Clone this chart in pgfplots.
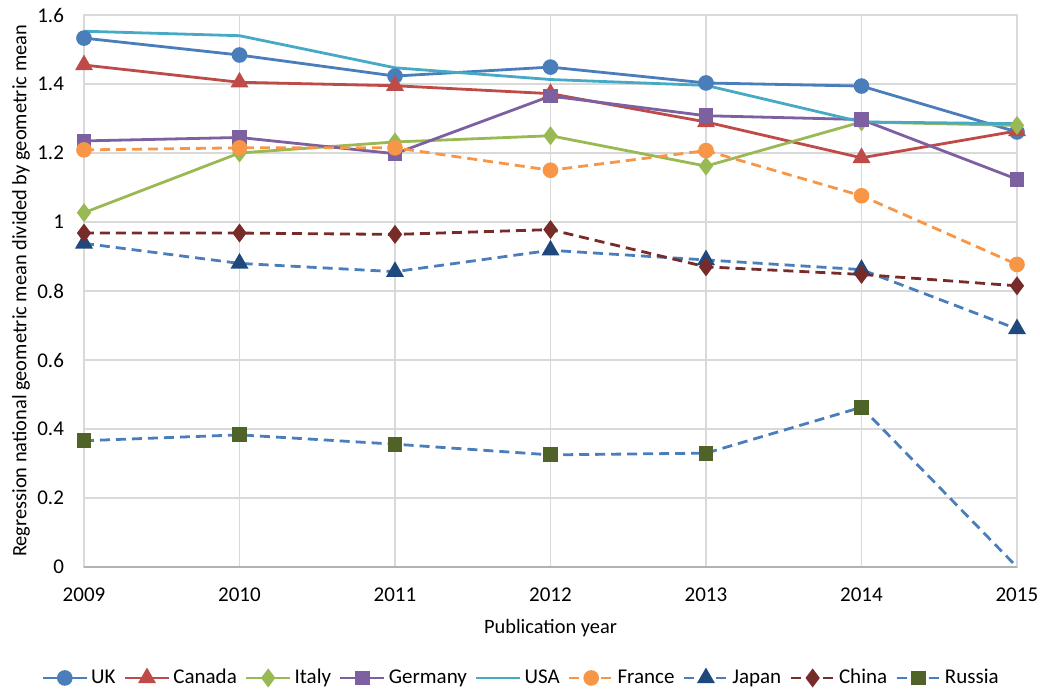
\documentclass[border=0pt]{standalone}
\usepackage{fontspec}
\setmainfont{Carlito}
\usepackage{pgfplots}
\pgfplotsset{compat=1.18}

\definecolor{ukc}{HTML}{4A7EBB}
\definecolor{cac}{HTML}{BE4B48}
\definecolor{itc}{HTML}{98B954}
\definecolor{dec}{HTML}{7D60A0}
\definecolor{usc}{HTML}{46AAC5}
\definecolor{frc}{HTML}{F79646}
\definecolor{jpl}{HTML}{4A7EBB}
\definecolor{jpm}{HTML}{1F497D}
\definecolor{cnc}{HTML}{772C2A}
\definecolor{rum}{HTML}{4F6228}
\definecolor{gridc}{HTML}{D9D9D9}

\pgfplotsset{
  long legend/.style={
    legend image code/.code={%
      \draw[mark repeat=2, mark phase=2, ##1] plot coordinates {(0pt,0pt) (11pt,0pt) (22pt,0pt)};}},
  midmark legend/.style={
    legend image code/.code={%
      \draw[##1, mark indices={2}] plot coordinates {(0pt,0pt) (11pt,0pt) (22pt,0pt)};}},
}

\begin{document}
\begin{tikzpicture}
\begin{axis}[
  scale only axis,
  width=466.5pt, height=276pt,
  xmin=2009, xmax=2015, ymin=0, ymax=1.6,
  xtick={2009,...,2015},
  ytick={0,0.2,...,1.6},
  x tick label style={/pgf/number format/1000 sep=, yshift=-7pt},
  y tick label style={xshift=-6.5pt},
  /pgf/number format/assume math mode=true,
  tick label style={font=\fontsize{10.5}{12}\selectfont},
  major tick length=0pt,
  grid=major,
  major grid style={gridc, line width=0.7pt},
  axis line style={gridc, line width=0.7pt},
  xlabel={Publication year},
  ylabel={Regression national geometric mean divided by geometric mean},
  label style={font=\fontsize{10.2}{12}\selectfont},
  xlabel style={at={(axis description cs:0.5,-0.1105)}, anchor=center},
  ylabel style={at={(axis description cs:-0.0675,0.5)}, anchor=center},
  long legend,
  legend columns=-1,
  legend style={at={(0.469,-0.201)}, anchor=center, draw=none,
    font=\fontsize{10.5}{12}\selectfont, column sep=0pt,
    nodes={inner xsep=1.5pt},
    /tikz/every even column/.append style={column sep=2.5pt}},
  every axis plot/.append style={line width=1.4pt},
]
\addplot[ukc, mark=*, mark size=3.2pt] coordinates {
 (2009,1.533) (2010,1.484) (2011,1.423) (2012,1.449) (2013,1.403) (2014,1.394) (2015,1.261)};
\addlegendentry{UK}
\addplot[cac, mark=triangle*, mark size=3.8pt] coordinates {
 (2009,1.455) (2010,1.405) (2011,1.395) (2012,1.372) (2013,1.290) (2014,1.186) (2015,1.264)};
\addlegendentry{Canada}
\addplot[itc, mark=diamond*, mark size=3.6pt] coordinates {
 (2009,1.027) (2010,1.200) (2011,1.232) (2012,1.250) (2013,1.162) (2014,1.290) (2015,1.280)};
\addlegendentry{Italy}
\addplot[dec, mark=square*, mark size=3pt] coordinates {
 (2009,1.235) (2010,1.245) (2011,1.198) (2012,1.365) (2013,1.308) (2014,1.297) (2015,1.124)};
\addlegendentry{Germany}
\addplot[usc, no marks] coordinates {
 (2009,1.553) (2010,1.540) (2011,1.447) (2012,1.413) (2013,1.396) (2014,1.290) (2015,1.285)};
\addlegendentry{USA}
\addplot[frc, dash pattern=on 5pt off 3pt, mark=*, mark size=3.2pt,
  mark options={solid}] coordinates {
 (2009,1.209) (2010,1.215) (2011,1.215) (2012,1.150) (2013,1.207) (2014,1.076) (2015,0.877)};
\addlegendentry{France}
\addplot[jpl, dash pattern=on 5pt off 3pt, mark=triangle*, mark size=3.8pt,
  mark options={solid, jpm}] coordinates {
 (2009,0.938) (2010,0.880) (2011,0.856) (2012,0.918) (2013,0.890) (2014,0.862) (2015,0.690)};
\addlegendentry{Japan}
\addplot[cnc, dash pattern=on 5pt off 3pt, mark=diamond*, mark size=3.6pt,
  mark options={solid}] coordinates {
 (2009,0.968) (2010,0.968) (2011,0.964) (2012,0.978) (2013,0.870) (2014,0.848) (2015,0.815)};
\addlegendentry{China}
\addplot[jpl, dash pattern=on 5pt off 3pt, mark=square*, mark size=3pt,
  mark options={solid, rum}, mark indices={1,2,3,4,5,6}, midmark legend] coordinates {
 (2009,0.366) (2010,0.383) (2011,0.356) (2012,0.325) (2013,0.330) (2014,0.463) (2015,0.000)};
\addlegendentry{Russia}
\draw[gray!60, line width=0.8pt] (rel axis cs:0,0) -- (rel axis cs:1,0);
\coordinate (sw) at (rel axis cs:0,0);
\coordinate (ne) at (rel axis cs:1,1);
\end{axis}
\pgfresetboundingbox
\path ([shift={(-42pt,-62.5pt)}]sw) rectangle ([shift={(11.5pt,7.5pt)}]ne);
\end{tikzpicture}
\end{document}
